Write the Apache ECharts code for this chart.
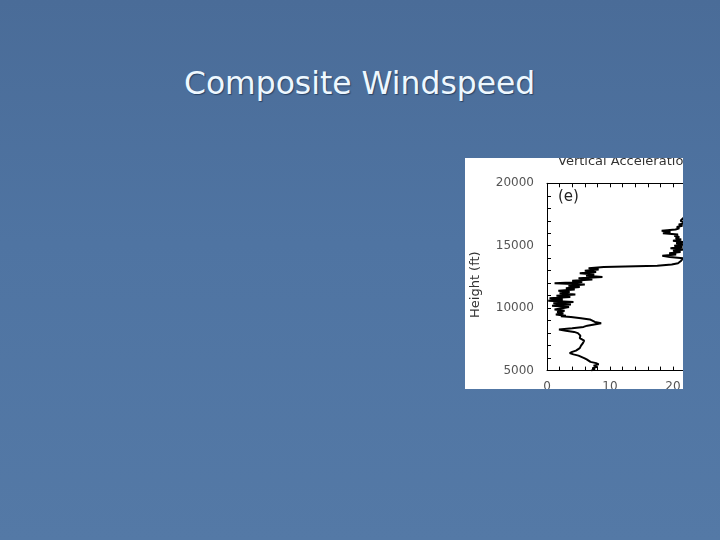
<!DOCTYPE html>
<html>
<head>
<meta charset="utf-8">
<script src="https://cdn.jsdelivr.net/npm/echarts@6/dist/echarts.min.js"></script>
<style>
  html, body { margin: 0; padding: 0; width: 720px; height: 540px; overflow: hidden; }
  body { background: linear-gradient(180deg, #4a6c98 0%, #4f74a2 45%, #5479a6 100%); position: relative; }
  #title { position: absolute; left: 184px; top: 65px; white-space: nowrap;
           font-family: "DejaVu Sans", sans-serif; font-size: 31.4px; color: #eef8ff;
           text-shadow: 1px 1px 1px rgba(20,40,70,0.6); }
  #box { position: absolute; left: 465px; top: 158px; width: 218px; height: 231px; overflow: hidden; background: #ffffff; }
  #chart { position: absolute; left: 0; top: -10px; width: 300px; height: 260px; }
</style>
</head>
<body>
<div id="title">Composite Windspeed</div>
<div id="box"><div id="chart"></div></div>
<script>
// Height (ft) and wind speed
const heights = [5000,5100,5200,5300,5400,5500,5600,5700,5800,5900,6000,6100,6200,6300,6400,6500,6600,6700,6800,6900,
  7000,7100,7200,7300,7400,7500,7600,7700,7800,7900,8000,8100,8200,8300,8400,8500,8600,8700,8800,8900,
  9000,9100,9200,9300,9350,9400,9500,9600,9700,9800,9900,10000,10100,10200,10300,10400,10500,10600,10700,10800,
  10900,11000,11100,11200,11300,11400,11500,11600,11700,11800,11900,12000,12100,12200,12300,12400,12500,12600,12700,12800,
  12900,13000,13100,13200,13300,13400,13500,13600,13800,14000,14100,14200,14300,14400,14500,14600,14700,14800,14900,15000,
  15100,15200,15300,15400,15500,15600,15700,15800,15900,16000,16100,16200,16300,16400,16500,16600,16700,16800,17000,17200,
  17400,17600];
const speeds = [7.0,7.6,7.2,8.0,7.4,8.2,7.8,6.9,6.7,6.3,5.9,5.6,5.0,4.2,3.6,4.0,4.6,4.8,5.2,5.0,
  5.4,5.3,5.7,5.5,5.9,5.6,5.2,5.5,5.3,5.0,4.9,4.3,3.0,1.9,4.0,5.8,6.4,7.5,8.6,7.6,
  7.8,6.8,5.4,3.8,2.2,3.0,1.4,2.6,1.6,2.8,1.2,2.4,3.5,0.8,3.8,1.0,4.2,0.2,2.5,0.4,
  3.7,1.5,4.5,2.0,3.6,1.8,4.4,3.0,5.2,3.4,6.0,1.2,5.6,4.0,7.2,5.0,8.8,6.2,7.5,5.2,
  7.8,6.0,8.2,6.6,9.0,17.5,19.8,20.8,21.3,21.6,19.5,18.3,20.5,19.4,21.2,20.0,21.8,19.6,21.5,20.2,
  22.0,20.5,21.6,20.0,21.3,20.4,21.0,20.2,20.8,18.4,19.6,18.2,20.4,21.0,20.6,21.5,20.9,22.0,21.2,21.6,
  22.5,24.0];
const yLabelStep = 5000;
const xLabelStep = 10;
const plotTitle = "Vertical Acceleration";
const panelLabel = "(e)";
const yName = "Height (ft)";

const chart = echarts.init(document.getElementById('chart'));
const pairs = heights.map((h, i) => [speeds[i], h]);
const axisFont = { fontFamily: 'DejaVu Sans', fontSize: 12, color: '#555' };
chart.setOption({
  animation: false,
  backgroundColor: '#ffffff',
  grid: { left: 82, top: 35.3, width: 189, height: 187.3, show: false },
  xAxis: [
    { type: 'value', min: 0, max: 30, interval: 2, position: 'bottom',
      axisLine: { show: true, lineStyle: { color: '#000', width: 1 } },
      axisTick: { show: true, inside: true, length: 4, lineStyle: { color: '#000' } },
      splitLine: { show: false },
      axisLabel: Object.assign({ margin: 10, showMaxLabel: false,
        formatter: v => (v % xLabelStep === 0 ? String(v) : '') }, axisFont) },
    { type: 'value', min: 0, max: 30, interval: 2, position: 'top',
      axisLine: { show: true, lineStyle: { color: '#000', width: 1 } },
      axisTick: { show: true, inside: true, length: 4, lineStyle: { color: '#000' } },
      splitLine: { show: false }, axisLabel: { show: false } }
  ],
  yAxis: {
    type: 'value', min: 5000, max: 20000, interval: 1000,
    axisLine: { show: true, lineStyle: { color: '#000', width: 1 } },
    axisTick: { show: true, inside: true, length: 4, lineStyle: { color: '#000' } },
    splitLine: { show: false },
    axisLabel: Object.assign({ margin: 13, formatter: v => (v % yLabelStep === 0 ? String(v) : '') }, axisFont)
  },
  graphic: [
    { type: 'text', left: 93, top: 7, style: { text: plotTitle, font: '13px "DejaVu Sans"', fill: '#333' } },
    { type: 'text', left: 93, top: 42, style: { text: panelLabel, font: '15px "DejaVu Sans"', fill: '#222' } },
    { type: 'text', x: 4, y: 170, rotation: Math.PI / 2,
      style: { text: yName, font: '13px "DejaVu Sans"', fill: '#333' } }
  ],
  series: [{
    type: 'line', data: pairs, showSymbol: false, clip: true,
    lineStyle: { color: '#000', width: 2 }
  }]
});
</script>
</body>
</html>
